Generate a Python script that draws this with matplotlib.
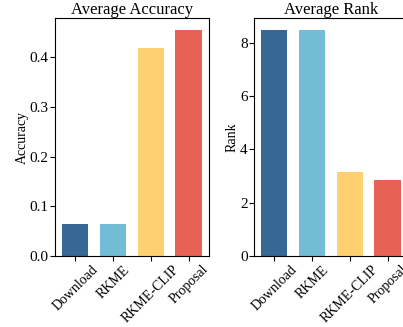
import matplotlib
matplotlib.use('Agg')
import matplotlib.pyplot as plt

plt.rcParams['font.family'] = ['Liberation Serif', 'DejaVu Serif']

methods = ['Download', 'RKME', 'RKME-CLIP', 'Proposal']
accuracy = [0.064, 0.064, 0.418, 0.455]
rank = [8.5, 8.5, 3.15, 2.85]
colors = ['#376795', '#72BCD5', '#FFD06F', '#E76254']

fig = plt.figure(figsize=(4.03, 3.27), dpi=100)
ax1 = fig.add_axes([0.1365, 0.217, 0.382, 0.727])
ax2 = fig.add_axes([0.630, 0.217, 0.382, 0.727])

for ax, vals, title, ylabel in [(ax1, accuracy, 'Average Accuracy', 'Accuracy'),
                                (ax2, rank, 'Average Rank', 'Rank')]:
    ax.bar(range(len(methods)), vals, width=0.7, color=colors)
    ax.set_xticks(range(len(methods)))
    ax.set_xticklabels(methods, rotation=45, fontsize=10)
    ax.tick_params(axis='x', pad=1.5)
    ax.tick_params(axis='y', labelsize=11, pad=1)
    ax.set_title(title, fontsize=12, pad=3)
    ax.set_ylabel(ylabel, fontsize=10, labelpad=1)

fig.savefig('out.png', dpi=100)
